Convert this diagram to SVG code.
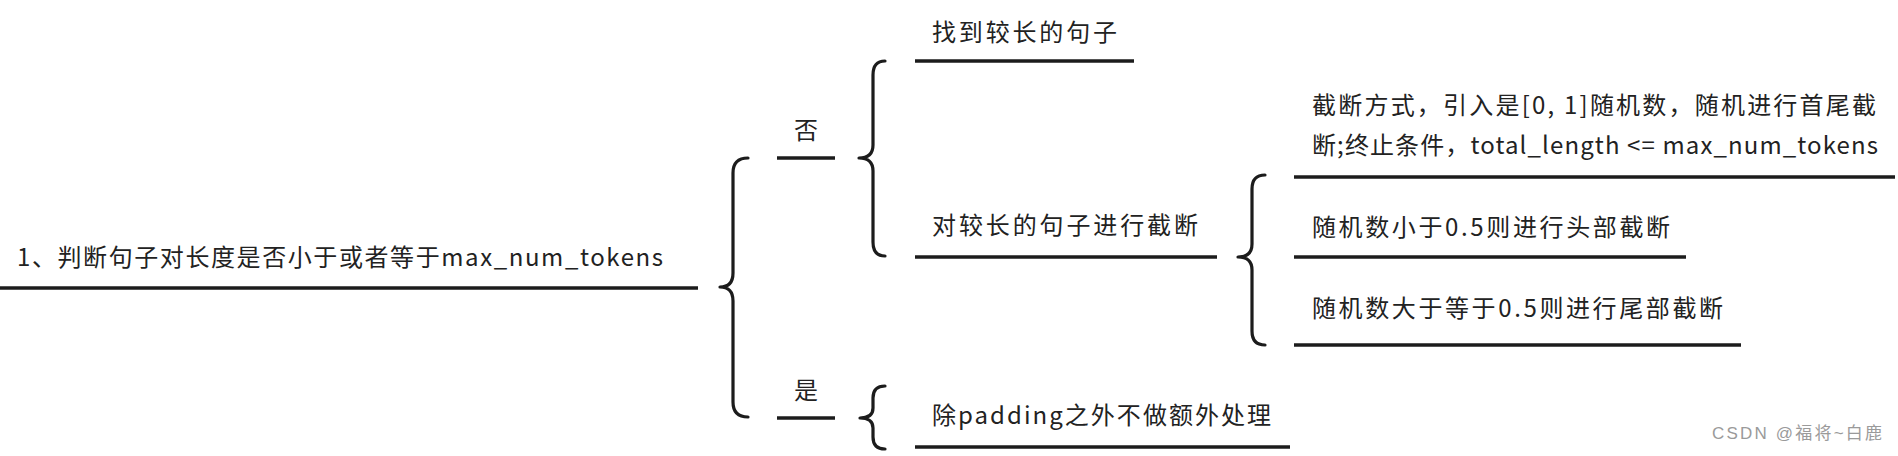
<svg xmlns="http://www.w3.org/2000/svg" width="1898" height="456" viewBox="0 0 1898 456">
<style>
.t{font-family:"Noto Sans CJK SC","Noto Sans",sans-serif;font-size:24px;fill:#222;}
.u{stroke:#1c1c1c;stroke-width:3.6;fill:none;}
.b{stroke:#1c1c1c;stroke-width:3.2;fill:none;stroke-linecap:round;stroke-linejoin:round;}
.w{font-family:"Liberation Sans","Noto Sans CJK SC",sans-serif;font-size:17px;fill:#9a9a9a;}
</style>
<rect width="1898" height="456" fill="#ffffff"/>
<g id="connectors">
<path class="b" d="M748,158 Q733,158 733,173 L733,273 Q733,287 720,287 Q733,287 733,301 L733,402 Q733,417 748,417"/>
<path class="b" d="M885,61 Q873,61 873,75 L873,145 Q873,158 859,158 Q873,158 873,171 L873,242 Q873,256 885,256"/>
<path class="b" d="M1265,175 Q1252,175 1252,189 L1252,244 Q1252,257 1238,257 Q1252,257 1252,270 L1252,331 Q1252,345 1265,345"/>
<path class="b" d="M885,386 Q873,386 873,398 L873,408 Q873,418 860,418 Q873,418 873,428 L873,437 Q873,449 885,449"/>
</g>
<g id="root">
<text class="t" x="17" y="266" textLength="646" lengthAdjust="spacing">1、判断句子对长度是否小于或者等于max_num_tokens</text>
<line class="u" x1="0" y1="288" x2="698" y2="288"/>
</g>
<g id="no">
<text class="t" x="794" y="139">否</text>
<line class="u" x1="777" y1="158" x2="835" y2="158"/>
</g>
<g id="yes">
<text class="t" x="794" y="399">是</text>
<line class="u" x1="777" y1="418" x2="835" y2="418"/>
</g>
<g id="find">
<text class="t" x="932" y="41" textLength="185" lengthAdjust="spacing">找到较长的句子</text>
<line class="u" x1="915" y1="61" x2="1134" y2="61"/>
</g>
<g id="truncate">
<text class="t" x="932" y="234" textLength="266" lengthAdjust="spacing">对较长的句子进行截断</text>
<line class="u" x1="915" y1="257" x2="1217" y2="257"/>
</g>
<g id="method">
<text class="t" x="1312" y="114" textLength="564" lengthAdjust="spacing">截断方式，引入是[0, 1]随机数，随机进行首尾截</text>
<text class="t" x="1312" y="154" textLength="566" lengthAdjust="spacing">断;终止条件，total_length &lt;= max_num_tokens</text>
<line class="u" x1="1294" y1="177" x2="1895" y2="177"/>
</g>
<g id="head">
<text class="t" x="1312" y="236" textLength="358" lengthAdjust="spacing">随机数小于0.5则进行头部截断</text>
<line class="u" x1="1294" y1="257" x2="1686" y2="257"/>
</g>
<g id="tail">
<text class="t" x="1312" y="317" textLength="411" lengthAdjust="spacing">随机数大于等于0.5则进行尾部截断</text>
<line class="u" x1="1294" y1="345" x2="1741" y2="345"/>
</g>
<g id="padding">
<text class="t" x="932" y="424" textLength="339" lengthAdjust="spacing">除padding之外不做额外处理</text>
<line class="u" x1="915" y1="447" x2="1290" y2="447"/>
</g>
<text class="w" x="1712" y="439" textLength="170" lengthAdjust="spacing">CSDN @福将~白鹿</text>
</svg>
